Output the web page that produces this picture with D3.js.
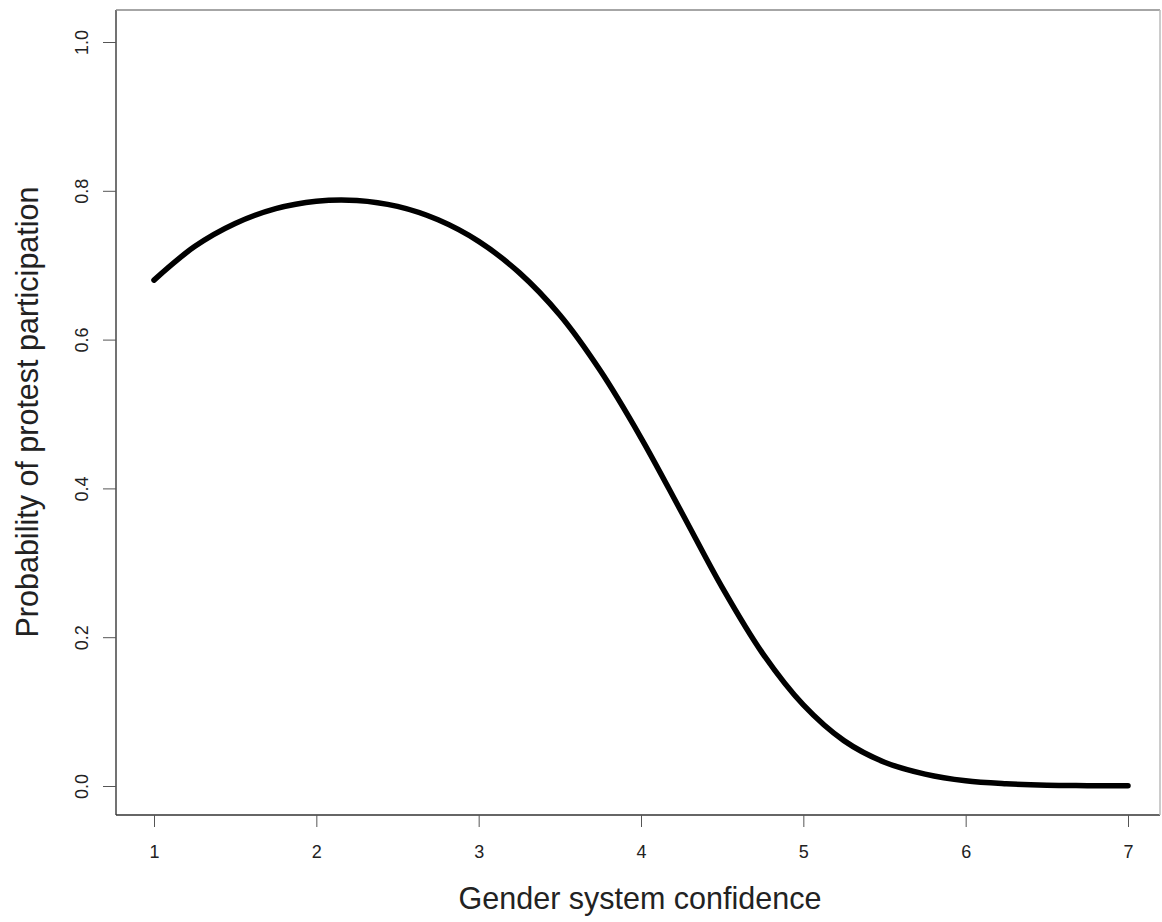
<!DOCTYPE html>
<html>
<head>
<meta charset="utf-8">
<script src="https://cdn.jsdelivr.net/npm/d3@7"></script>
<style>
  body { margin: 0; background: #fff; }
  text { font-family: "Liberation Sans", Arial, sans-serif; fill: #222; }
</style>
</head>
<body>
<div id="chart"></div>
<script>
// values
var confidence = [1, 1.25, 1.5, 1.75, 2, 2.25, 2.5, 2.75, 3, 3.25, 3.5, 3.75, 4,
                  4.25, 4.5, 4.75, 5, 5.25, 5.5, 5.75, 6, 6.25, 6.5, 6.75, 7];
var probability = [0.680, 0.725, 0.756, 0.776, 0.786, 0.787, 0.779, 0.761, 0.732,
                   0.690, 0.633, 0.558, 0.468, 0.368, 0.267, 0.178, 0.109, 0.061,
                   0.032, 0.016, 0.007, 0.003, 0.001, 0.0005, 0.0002];
var xTicks = [1, 2, 3, 4, 5, 6, 7];
var yTicks = [0, 0.2, 0.4, 0.6, 0.8, 1.0];

var width = 1162, height = 922;
var box = { left: 116, right: 1160, top: 10, bottom: 815 };

var svg = d3.select("#chart").append("svg")
            .attr("width", width)
            .attr("height", height);

var x = d3.scaleLinear().domain([1, 7]).range([154, 1128]);
var y = d3.scaleLinear().domain([0, 1]).range([786, 42]);

// frame
svg.append("line").attr("x1", box.left).attr("x2", box.left).attr("y1", box.top).attr("y2", box.bottom)
   .attr("stroke", "#444").attr("stroke-width", 1.5);
svg.append("line").attr("x1", box.left).attr("x2", box.right).attr("y1", box.bottom).attr("y2", box.bottom)
   .attr("stroke", "#333").attr("stroke-width", 1.5);
svg.append("line").attr("x1", box.left).attr("x2", box.right).attr("y1", box.top).attr("y2", box.top)
   .attr("stroke", "#888").attr("stroke-width", 1.5);
svg.append("line").attr("x1", box.right).attr("x2", box.right).attr("y1", box.top).attr("y2", box.bottom)
   .attr("stroke", "#bbb").attr("stroke-width", 1.5);

// x axis
var xAxis = d3.axisBottom(x).tickValues(xTicks).tickSize(12).tickPadding(18)
              .tickFormat(d3.format("d"));
var gx = svg.append("g").attr("transform", "translate(0," + box.bottom + ")").call(xAxis);
gx.select(".domain").remove();
gx.selectAll("line").attr("stroke", "#555");
gx.selectAll("text").style("font-size", "18px").attr("fill", "#222")
  .style("font-family", "'Liberation Sans', Arial, sans-serif");

// y axis, labels rotated like R's las=0
var yAxis = d3.axisLeft(y).tickValues(yTicks).tickSize(13).tickFormat(d3.format(".1f"));
var gy = svg.append("g").attr("transform", "translate(" + box.left + ",0)").call(yAxis);
gy.select(".domain").remove();
gy.selectAll("line").attr("stroke", "#555");
gy.selectAll("text")
  .attr("x", null).attr("dy", null)
  .attr("text-anchor", "middle")
  .attr("transform", "translate(-28,0) rotate(-90)")
  .style("font-size", "18px").attr("fill", "#222")
  .style("font-family", "'Liberation Sans', Arial, sans-serif");

// curve
var line = d3.line()
             .curve(d3.curveCatmullRom)
             .x(function(d, i) { return x(confidence[i]); })
             .y(function(d) { return y(d); });
svg.append("path")
   .datum(probability)
   .attr("d", line)
   .attr("fill", "none")
   .attr("stroke", "#000")
   .attr("stroke-width", 5.5)
   .attr("stroke-linecap", "round");

// axis titles
svg.append("text")
   .attr("x", 640)
   .attr("y", 909)
   .attr("text-anchor", "middle")
   .style("font-size", "30.5px")
   .text("Gender system confidence");

svg.append("text")
   .attr("transform", "translate(38,412) rotate(-90)")
   .attr("text-anchor", "middle")
   .style("font-size", "30.5px")
   .text("Probability of protest participation");
</script>
</body>
</html>
